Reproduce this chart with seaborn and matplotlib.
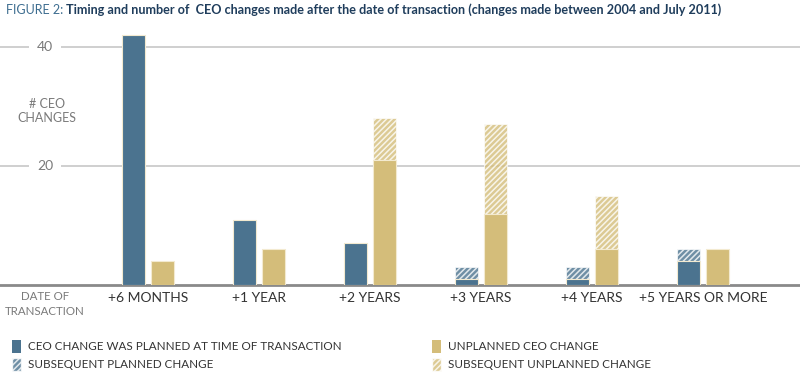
import numpy as np
import pandas as pd
import seaborn as sns
import matplotlib.pyplot as plt
from matplotlib.patches import Patch

# data
periods = ["+6 MONTHS", "+1 YEAR", "+2 YEARS", "+3 YEARS", "+4 YEARS", "+5 YEARS OR MORE"]
planned = [42, 11, 7, 1, 1, 4]
planned_subsequent = [0, 0, 0, 2, 2, 2]
unplanned = [4, 6, 21, 12, 6, 6]
unplanned_subsequent = [0, 0, 7, 15, 9, 0]

BLUE = "#4b738f"
GOLD = "#d4bd7a"
GRID = "#cccccc"
TEXT = "#333333"
GREY = "#7a7a7a"


def plot():
    sns.set_theme(style="white")
    plt.rcParams["font.family"] = ["Lato", "DejaVu Sans"]
    plt.rcParams["hatch.linewidth"] = 1.1
    plt.rcParams["hatch.color"] = "white"

    base = pd.DataFrame({
        "period": periods * 2,
        "kind": ["planned"] * 6 + ["unplanned"] * 6,
        "value": planned + unplanned,
    })
    totals = pd.DataFrame({
        "period": periods * 2,
        "kind": ["planned"] * 6 + ["unplanned"] * 6,
        "value": list(np.add(planned, planned_subsequent)) + list(np.add(unplanned, unplanned_subsequent)),
    })

    fig = plt.figure(figsize=(8, 3.77), dpi=100)
    ax = fig.add_axes([0, 1 - 285 / 377, 1, (285 - 32) / 377])

    palette = {"planned": BLUE, "unplanned": GOLD}
    sns.barplot(ax=ax, data=totals, x="period", y="value", hue="kind", palette=palette,
                width=0.52, gap=0.23, saturation=1, legend=False, zorder=2)
    n_tot = len(ax.patches)
    for p in ax.patches[:n_tot]:
        p.set_hatch("//////")
        p.set_alpha(0.8)
        p.set_edgecolor("white")
        p.set_linewidth(0.6)
    sns.barplot(ax=ax, data=base, x="period", y="value", hue="kind", palette=palette,
                width=0.52, gap=0.23, saturation=1, legend=False, zorder=3)
    for p in ax.patches[n_tot:]:
        p.set_edgecolor("#f3ead0")
        p.set_linewidth(0.8)

    ax.set_xlim(-148 / 111, (800 - 148) / 111)
    ax.set_ylim(0, 253 / 5.95)
    ax.set_yticks([20, 40])
    ax.yaxis.grid(True, color=GRID, linewidth=1.3, zorder=0)
    ax.xaxis.grid(False)
    ax.tick_params(axis="y", labelleft=False, length=0)
    ax.tick_params(axis="x", length=0, pad=5, labelsize=10, labelcolor=TEXT)
    for s in ["left", "right", "top"]:
        ax.spines[s].set_visible(False)
    ax.spines["bottom"].set_color("#8a8a8a")
    ax.spines["bottom"].set_linewidth(2)
    ax.set_xlabel("")
    ax.set_ylabel("")

    for v in [20, 40]:
        ax.text(45 / 800, v, str(v), transform=ax.get_yaxis_transform(), ha="center", va="center",
                fontsize=10, color=GREY,
                bbox=dict(boxstyle="square,pad=0.6", fc="white", ec="none"), zorder=1)
    ax.text(47 / 800, 29.2, "# CEO\nCHANGES", transform=ax.get_yaxis_transform(), ha="center",
            va="center", fontsize=9, color=GREY, linespacing=1.2)
    fig.text(45 / 800, 1 - 304 / 377, "DATE OF\nTRANSACTION", ha="center", va="center",
             fontsize=8.3, color=GREY, linespacing=1.45)

    fig.text(6 / 800, 1 - 10 / 377, "FIGURE 2:", ha="left", va="center", fontsize=9,
             color="#3d6d90")
    fig.text(66 / 800, 1 - 10 / 377,
             "Timing and number of  CEO changes made after the date of transaction "
             "(changes made between 2004 and July 2011)",
             ha="left", va="center", fontsize=9.1, fontweight="bold", color="#1f3d5c",
             family=["Lato", "DejaVu Sans"])

    leg_kw = dict(frameon=False, fontsize=8.4, labelcolor=TEXT, handlelength=0.8,
                  handleheight=1.3, handletextpad=0.6, labelspacing=0.45,
                  loc="upper left", borderaxespad=0, borderpad=0)
    fig.legend(handles=[Patch(facecolor=BLUE, edgecolor="none"),
                        Patch(facecolor=BLUE, edgecolor="white", hatch="//////", alpha=0.8)],
               labels=["CEO CHANGE WAS PLANNED AT TIME OF TRANSACTION", "SUBSEQUENT PLANNED CHANGE"],
               bbox_to_anchor=(12 / 800, 1 - 340 / 377), **leg_kw)
    fig.legend(handles=[Patch(facecolor=GOLD, edgecolor="none"),
                        Patch(facecolor=GOLD, edgecolor="white", hatch="//////", alpha=0.8)],
               labels=["UNPLANNED CEO CHANGE", "SUBSEQUENT UNPLANNED CHANGE"],
               bbox_to_anchor=(432 / 800, 1 - 340 / 377), **leg_kw)

    plt.savefig("out.png", dpi=100)


if __name__ == '__main__':
    plot()
